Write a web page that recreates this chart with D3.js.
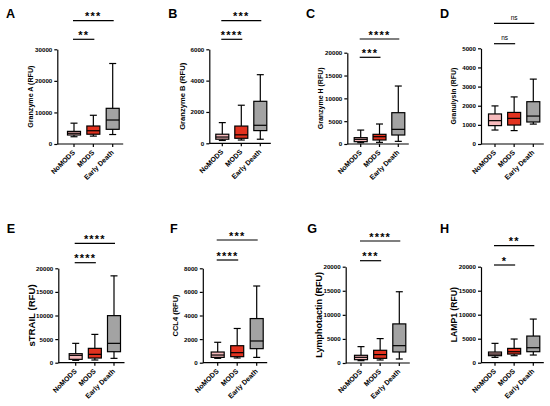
<!DOCTYPE html>
<html>
<head>
<meta charset="utf-8">
<script src="https://cdn.jsdelivr.net/npm/d3@7"></script>
<style>
  body { margin: 0; background: #fff; }
  svg { display: block; font-family: "Liberation Sans", Arial, sans-serif; }
</style>
</head>
<body>
<svg id="chart" width="550" height="406"></svg>
<script>
// groups on the x axis
const groups = ["NoMODS", "MODS", "Early Death"];
const groupColors = ["#f6b9bb", "#e3321f", "#a3a3a3"];

const panelLetters = ["A", "B", "C", "D", "E", "F", "G", "H"];
const yLabels = ["Granzyme A (RFU)", "Granzyme B (RFU)", "Granzyme H (RFU)", "Granulysin (RFU)",
                 "sTRAIL (RFU)", "CCL4 (RFU)", "Lymphotactin (RFU)", "LAMP1 (RFU)"];
const yMax = [30000, 6000, 20000, 5000, 20000, 8000, 20000, 20000];
const yStep = [10000, 2000, 5000, 1000, 5000, 2000, 5000, 5000];

// [min, q1, median, q3, max] per group
const granzymeA    = [[2300, 2850, 3400, 4000, 6600], [2500, 3100, 4200, 5700, 9100], [3000, 4650, 7600, 11300, 25500]];
const granzymeB    = [[180, 260, 400, 580, 1320], [210, 320, 540, 1100, 2430], [260, 810, 1150, 2680, 4380]];
const granzymeH    = [[290, 510, 1020, 1390, 3050], [360, 880, 1600, 2120, 4380], [580, 1970, 3210, 6860, 12700]];
const granulysin   = [[730, 960, 1220, 1570, 1990], [700, 990, 1340, 1650, 2460], [1040, 1150, 1460, 2210, 3390]];
const sTRAIL       = [[500, 710, 1560, 1910, 4100], [570, 990, 1770, 3040, 6000], [920, 2330, 4100, 9970, 18400]];
const ccl4         = [[370, 450, 650, 905, 1730], [400, 510, 850, 1440, 2900], [450, 1190, 1840, 3740, 6500]];
const lymphotactin = [[490, 690, 1180, 1600, 3400], [625, 970, 1740, 2640, 5070], [830, 2290, 3600, 8120, 14800]];
const lamp1        = [[1110, 1460, 1800, 2220, 4030], [1460, 1800, 2290, 2980, 4930], [1600, 2290, 3120, 5550, 9090]];
const panelData = [granzymeA, granzymeB, granzymeH, granulysin, sTRAIL, ccl4, lymphotactin, lamp1];

// significance: NoMODS vs MODS, NoMODS vs Early Death
const sigShort = ["**", "****", "***", "ns", "****", "****", "***", "*"];
const sigLong  = ["***", "***", "****", "ns", "****", "***", "****", "**"];

// layout (pixels): axis x, top of y range, zero line, first/last box centre, bracket heights, label size
const layout = [
  {ax: 57.3,  top: 49.3,  bot: 144,   c0: 74,    c2: 112.7, s1: 39.3,  s2: 20.7,  lx: 6,     ly: 18.3,  fs: 7.1},
  {ax: 209.3, top: 49.3,  bot: 143.3, c0: 222.3, c2: 260.3, s1: 39.3,  s2: 20.7,  lx: 168.3, ly: 18.3,  fs: 7.6},
  {ax: 347.3, top: 52.7,  bot: 144,   c0: 360.7, c2: 398.3, s1: 57.3,  s2: 39,    lx: 306,   ly: 18.3,  fs: 7},
  {ax: 481,   top: 48.3,  bot: 144,   c0: 495,   c2: 533.3, s1: 43.7,  s2: 23.3,  lx: 440,   ly: 18,    fs: 6.9},
  {ax: 58.3,  top: 268.3, bot: 362.7, c0: 75.7,  c2: 114,   s1: 262.7, s2: 243.3, lx: 6.7,   ly: 233.3, fs: 9.6},
  {ax: 202.8, top: 268.3, bot: 362.7, c0: 217.7, c2: 256.7, s1: 260,   s2: 240,   lx: 170,   ly: 233.3, fs: 7.5},
  {ax: 345.7, top: 266.7, bot: 363,   c0: 361,   c2: 399.3, s1: 260.7, s2: 241,   lx: 307.3, ly: 233.3, fs: 9},
  {ax: 481,   top: 266.7, bot: 362.7, c0: 495,   c2: 533.3, s1: 265,   s2: 245.7, lx: 440,   ly: 232.7, fs: 8.6}
];

const svg = d3.select("#chart");
const boxW = 13, capW = 7, lw = 1.2;

panelData.forEach((data, i) => {
  const L = layout[i];
  const g = svg.append("g");

  const y = d3.scaleLinear().domain([0, yMax[i]]).range([L.bot, L.top]);
  const x = d3.scalePoint().domain(groups).range([L.c0, L.c2]);

  // panel letter
  g.append("text")
    .attr("x", L.lx).attr("y", L.ly)
    .attr("font-size", 12.6).attr("font-weight", "bold")
    .text(panelLetters[i]);

  // y axis
  const yAxis = g.append("g")
    .attr("transform", `translate(${L.ax},0)`)
    .call(d3.axisLeft(y)
      .tickValues(d3.range(0, yMax[i] + 1, yStep[i]))
      .tickFormat(d3.format("d"))
      .tickSize(3).tickPadding(2).tickSizeOuter(0));
  yAxis.selectAll("path, line").attr("stroke", "#000").attr("stroke-width", lw);
  yAxis.selectAll("text").attr("font-size", 6.2).attr("font-weight", "bold")
    .attr("fill", "#000").attr("font-family", null);

  // y label
  g.append("text")
    .attr("transform", `translate(${L.ax - 27},${(L.top + L.bot) / 2}) rotate(-90)`)
    .attr("text-anchor", "middle").attr("dy", "0.35em")
    .attr("font-size", L.fs).attr("font-weight", "bold")
    .text(yLabels[i]);

  // x axis
  g.append("line")
    .attr("x1", L.ax).attr("x2", x(groups[2]) + 10.5)
    .attr("y1", L.bot).attr("y2", L.bot)
    .attr("stroke", "#000").attr("stroke-width", lw);
  groups.forEach(c => {
    g.append("line")
      .attr("x1", x(c)).attr("x2", x(c))
      .attr("y1", L.bot).attr("y2", L.bot + 3)
      .attr("stroke", "#000").attr("stroke-width", lw);
    g.append("text")
      .attr("transform", `translate(${x(c) + 1.5},${L.bot + 9}) rotate(-45)`)
      .attr("text-anchor", "end")
      .attr("font-size", 7).attr("font-weight", "bold")
      .text(c);
  });

  // boxes
  data.forEach((d, j) => {
    const cx = x(groups[j]);
    const [mn, q1, md, q3, mx] = d;
    const bg = g.append("g").attr("stroke", "#000").attr("stroke-width", lw);
    bg.append("line").attr("x1", cx).attr("x2", cx).attr("y1", y(mx)).attr("y2", y(q3));
    bg.append("line").attr("x1", cx).attr("x2", cx).attr("y1", y(q1)).attr("y2", y(mn));
    bg.append("line").attr("x1", cx - capW / 2).attr("x2", cx + capW / 2).attr("y1", y(mx)).attr("y2", y(mx));
    bg.append("line").attr("x1", cx - capW / 2).attr("x2", cx + capW / 2).attr("y1", y(mn)).attr("y2", y(mn));
    bg.append("rect")
      .attr("x", cx - boxW / 2).attr("width", boxW)
      .attr("y", y(q3)).attr("height", y(q1) - y(q3))
      .attr("fill", groupColors[j]);
    bg.append("line").attr("x1", cx - boxW / 2).attr("x2", cx + boxW / 2).attr("y1", y(md)).attr("y2", y(md));
  });

  // significance brackets
  [[sigShort[i], L.s1, groups[1]], [sigLong[i], L.s2, groups[2]]].forEach(([label, ly, to]) => {
    const x1 = x(groups[0]) - 1, x2 = x(to) + 1;
    g.append("line")
      .attr("x1", x1).attr("x2", x2).attr("y1", ly).attr("y2", ly)
      .attr("stroke", "#000").attr("stroke-width", lw);
    const ns = label === "ns";
    g.append("text")
      .attr("x", (x1 + x2) / 2).attr("y", ns ? ly - 3.6 : ly - 0.5)
      .attr("text-anchor", "middle")
      .attr("font-size", ns ? 6.5 : 11)
      .attr("font-weight", ns ? "normal" : "bold")
      .attr("letter-spacing", ns ? 0 : 1.2)
      .text(label);
  });
});
</script>
</body>
</html>
